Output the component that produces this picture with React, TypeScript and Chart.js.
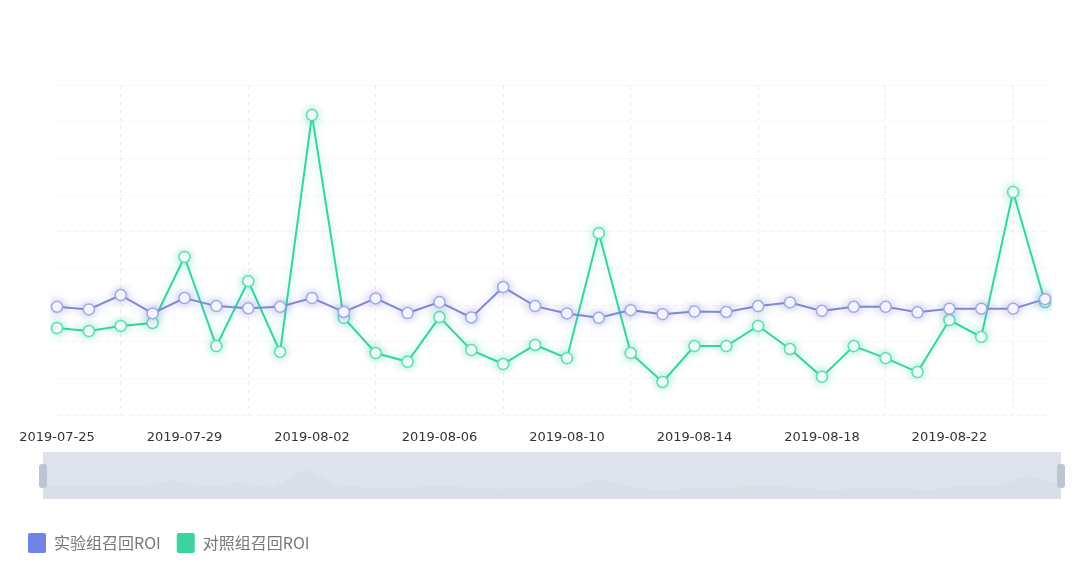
import React, { useEffect, useRef } from "react";
import { Chart, registerables } from "chart.js";

Chart.register(...registerables);

const dates: string[] = [
  "2019-07-25", "2019-07-26", "2019-07-27", "2019-07-28", "2019-07-29", "2019-07-30", "2019-07-31", "2019-08-01",
  "2019-08-02", "2019-08-03", "2019-08-04", "2019-08-05", "2019-08-06", "2019-08-07", "2019-08-08", "2019-08-09",
  "2019-08-10", "2019-08-11", "2019-08-12", "2019-08-13", "2019-08-14", "2019-08-15", "2019-08-16", "2019-08-17",
  "2019-08-18", "2019-08-19", "2019-08-20", "2019-08-21", "2019-08-22", "2019-08-23", "2019-08-24", "2019-08-25",
];

const experimentROI: number[] = [
  2.95, 2.88, 3.27, 2.77, 3.19, 2.97, 2.91, 2.95,
  3.19, 2.81, 3.18, 2.78, 3.08, 2.66, 3.49, 2.97,
  2.77, 2.65, 2.86, 2.75, 2.82, 2.81, 2.97, 3.07,
  2.84, 2.95, 2.95, 2.8, 2.9, 2.9, 2.9, 3.16,
];

const controlROI: number[] = [
  2.37, 2.29, 2.43, 2.51, 4.31, 1.88, 3.65, 1.72,
  8.18, 2.65, 1.69, 1.45, 2.67, 1.77, 1.39, 1.91,
  1.55, 4.96, 1.69, 0.9, 1.88, 1.88, 2.43, 1.8,
  1.04, 1.88, 1.55, 1.17, 2.59, 2.13, 6.08, 3.08,
];

const seriesNames: string[] = ["实验组召回ROI", "对照组召回ROI"];

const PURPLE_LINE = "#8389d4";
const PURPLE_LEGEND = "#6d86e6";
const GREEN_LINE = "#36d4a5";
const GREEN_LEGEND = "#3bd3a1";

const glowPlugin = {
  id: "glow",
  beforeDatasetDraw(chart: any, args: any) {
    const ctx = chart.ctx;
    ctx.save();
    ctx.shadowColor = args.index === 0 ? "rgba(120,130,220,0.45)" : "rgba(50,210,160,0.45)";
    ctx.shadowBlur = 8;
  },
  afterDatasetDraw(chart: any) {
    chart.ctx.restore();
  },
};

const sliderPlugin = {
  id: "slider",
  afterDraw(chart: any) {
    const ctx = chart.ctx;
    const x0 = 43;
    const x1 = 1061;
    const y0 = 452;
    const y1 = 499;
    ctx.save();
    ctx.fillStyle = "#dfe4ec";
    ctx.fillRect(x0, y0, x1 - x0, y1 - y0);
    const vals = controlROI;
    const n = vals.length;
    const max = Math.max(...vals);
    ctx.beginPath();
    ctx.moveTo(x0, y1);
    for (let i = 0; i < n; i++) {
      const x = x0 + ((x1 - x0) * i) / (n - 1);
      const y = y1 - 6 - (vals[i] / max) * 24;
      ctx.lineTo(x, y);
    }
    ctx.lineTo(x1, y1);
    ctx.closePath();
    ctx.fillStyle = "rgba(205,212,224,0.35)";
    ctx.fill();
    ctx.fillStyle = "#bcc5d2";
    const drawHandle = (cx: number) => {
      const w = 8;
      const h = 24;
      const r = 3;
      const x = cx - w / 2;
      const y = 464;
      ctx.beginPath();
      ctx.moveTo(x + r, y);
      ctx.lineTo(x + w - r, y);
      ctx.quadraticCurveTo(x + w, y, x + w, y + r);
      ctx.lineTo(x + w, y + h - r);
      ctx.quadraticCurveTo(x + w, y + h, x + w - r, y + h);
      ctx.lineTo(x + r, y + h);
      ctx.quadraticCurveTo(x, y + h, x, y + h - r);
      ctx.lineTo(x, y + r);
      ctx.quadraticCurveTo(x, y, x + r, y);
      ctx.fill();
    };
    drawHandle(x0);
    drawHandle(x1);
    ctx.restore();
  },
};

export default function App() {
  const ref = useRef<HTMLCanvasElement>(null);

  useEffect(() => {
    if (!ref.current) return;
    const chart = new Chart(ref.current, {
      type: "line",
      data: {
        labels: dates,
        datasets: [
          {
            label: seriesNames[0],
            data: experimentROI,
            borderColor: PURPLE_LINE,
            backgroundColor: PURPLE_LEGEND,
            borderWidth: 2,
            pointRadius: 5.5,
            pointBorderWidth: 1.5,
            pointBackgroundColor: "#ffffff",
            pointBorderColor: "#a3a8e6",
            tension: 0,
          },
          {
            label: seriesNames[1],
            data: controlROI,
            borderColor: GREEN_LINE,
            backgroundColor: GREEN_LEGEND,
            borderWidth: 2,
            pointRadius: 5.5,
            pointBorderWidth: 1.5,
            pointBackgroundColor: "#ffffff",
            pointBorderColor: "#5fdcb6",
            tension: 0,
          },
        ],
      },
      options: {
        animation: false,
        responsive: false,
        layout: { padding: { top: 85, left: 12, right: 35, bottom: 13 } },
        scales: {
          x: {
            offset: false,
            border: { display: false, dash: [4, 4] },
            grid: {
              drawTicks: false,
              color: (c: any) => (c.index % 4 === 2 ? "rgba(0,0,0,0.08)" : "rgba(0,0,0,0)"),
              lineWidth: 1,
            },
            ticks: {
              autoSkip: false,
              maxRotation: 0,
              padding: 15,
              color: "#333333",
              font: { family: "'DejaVu Sans', sans-serif", size: 13 },
              callback: (_v: any, i: number) => (i % 4 === 0 ? dates[i] : ""),
            },
            afterFit: (scale: any) => {
              scale.height = 102;
            },
          },
          y: {
            min: 0,
            max: 9,
            border: { display: false, dash: [4, 4] },
            grid: { drawTicks: false, color: "rgba(0,0,0,0.06)", tickLength: 0 },
            ticks: { display: false, stepSize: 1 },
            afterFit: (scale: any) => {
              scale.width = 45;
            },
          },
        },
        plugins: {
          tooltip: { enabled: false },
          legend: {
            position: "bottom",
            align: "start",
            labels: {
              boxWidth: 18,
              boxHeight: 20,
              padding: 16,
              useBorderRadius: true,
              borderRadius: 2,
              color: "#777777",
              font: { family: "'Noto Sans CJK SC', sans-serif", size: 16 },
              generateLabels: (ch: any) =>
                ch.data.datasets.map((d: any, i: number) => ({
                  text: d.label,
                  fillStyle: i === 0 ? PURPLE_LEGEND : GREEN_LEGEND,
                  strokeStyle: i === 0 ? PURPLE_LEGEND : GREEN_LEGEND,
                  lineWidth: 0,
                  hidden: false,
                  datasetIndex: i,
                  fontColor: "#777777",
                  borderRadius: 2,
                })),
            },
          },
        },
      },
      plugins: [glowPlugin, sliderPlugin],
    });
    return () => chart.destroy();
  }, []);

  return (
    <div style={{ position: "fixed", left: 0, top: 0, width: 1080, height: 576, background: "#ffffff" }}>
      <canvas ref={ref} width={1080} height={576} style={{ width: 1080, height: 576 }} />
    </div>
  );
}
